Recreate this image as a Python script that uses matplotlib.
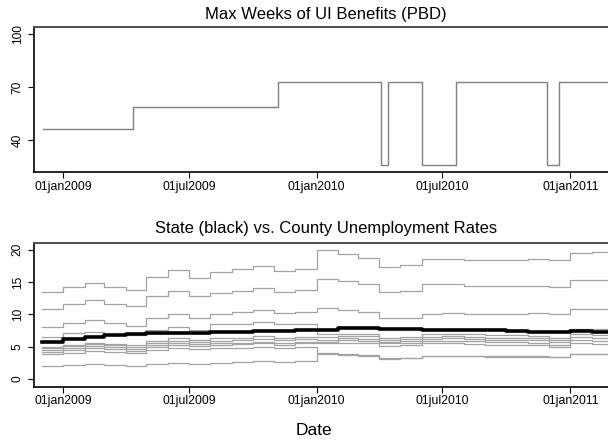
import numpy as np
import pandas as pd
import matplotlib
matplotlib.use("Agg")
import matplotlib.pyplot as plt

plt.rcParams["font.family"] = ["Liberation Sans", "DejaVu Sans"]

# ============================================================
# DATA
# ============================================================

# max weeks of UI benefits (PBD), value holds from each change date
pbd_dates = ["2008-12-03", "2009-04-11", "2009-11-07", "2010-04-04", "2010-04-14",
             "2010-06-01", "2010-07-21", "2010-11-29", "2010-12-16", "2011-03-31"]
pbd_weeks = [46, 59, 73, 26, 73, 26, 73, 26, 73, 73]

# monthly unemployment rates, Dec 2008 .. Feb 2011
months = pd.date_range("2008-12-01", "2011-02-01", freq="MS")

state_rate = [5.77, 6.2, 6.45, 6.8, 6.95, 7.05, 7.15, 7.2, 7.3, 7.35, 7.45, 7.5, 7.65,
              7.65, 7.9, 7.9, 7.7, 7.7, 7.65, 7.65, 7.55, 7.55, 7.5, 7.35, 7.3, 7.45, 7.3]

county_rates = {
    "c1": [13.5, 14.25, 14.9, 14.25, 13.85, 15.8, 16.9, 15.6, 16.5, 17.0, 17.5, 16.7, 17.1,
           19.9, 19.4, 18.7, 17.4, 17.7, 18.65, 18.65, 18.5, 18.5, 18.5, 18.6, 18.4, 19.5, 19.7],
    "c2": [10.9, 11.57, 12.2, 11.57, 11.27, 12.8, 13.7, 12.8, 13.3, 13.7, 14.15, 13.5, 13.84,
           15.5, 15.2, 14.66, 13.5, 13.7, 14.66, 14.66, 14.4, 14.4, 14.4, 14.4, 14.25, 15.3, 15.4],
    "c3": [8.07, 8.7, 9.1, 8.7, 8.2, 9.5, 10.1, 9.5, 10.0, 10.3, 10.65, 10.2, 10.4,
           11.0, 10.75, 10.4, 9.4, 9.5, 10.1, 10.25, 10.05, 10.05, 10.05, 10.25, 10.0, 10.77, 10.87],
    "c4": [6.54, 7.06, 7.3, 7.0, 6.8, 7.6, 8.0, 7.6, 8.45, 8.45, 8.76, 8.45, 8.5,
           6.9, 7.0, 6.9, 6.4, 6.5, 6.9, 7.0, 6.9, 6.8, 6.8, 6.7, 6.4, 7.8, 7.7],
    "m1": [4.9, 5.3, 5.6, 5.4, 5.2, 5.9, 6.3, 6.0, 6.3, 6.4, 6.6, 6.4, 6.55,
           6.5, 6.7, 6.6, 6.1, 6.2, 6.5, 6.6, 6.5, 6.4, 6.4, 6.3, 6.0, 6.9, 6.8],
    "m2": [4.74, 5.1, 5.35, 5.2, 5.0, 5.6, 5.95, 5.7, 5.9, 6.0, 6.2, 6.0, 6.13,
           6.1, 6.3, 6.2, 5.8, 5.9, 6.2, 6.3, 6.2, 6.1, 6.0, 6.0, 5.7, 6.5, 6.4],
    "m3": [4.48, 4.8, 5.05, 4.9, 4.7, 5.3, 5.6, 5.4, 5.55, 5.65, 5.8, 5.6, 5.77,
           5.8, 6.0, 5.9, 5.5, 5.6, 5.9, 5.95, 5.85, 5.75, 5.7, 5.6, 5.3, 6.0, 5.9],
    "m4": [4.22, 4.5, 4.75, 4.6, 4.4, 4.95, 5.3, 5.1, 5.25, 5.35, 5.5, 5.3, 5.5,
           5.5, 5.6, 5.5, 5.1, 5.2, 5.5, 5.5, 5.4, 5.3, 5.3, 5.2, 4.9, 5.5, 5.4],
    "m5": [3.86, 4.1, 4.35, 4.2, 4.0, 4.5, 4.8, 4.6, 4.75, 4.85, 5.0, 4.85, 4.99,
           3.97, 3.8, 3.7, 3.25, 3.3, 3.55, 3.6, 3.55, 3.5, 3.5, 3.5, 3.45, 3.8, 3.8],
    "c9": [2.0, 2.16, 2.3, 2.2, 2.05, 2.35, 2.5, 2.4, 2.55, 2.65, 2.8, 2.65, 2.78,
           3.86, 3.7, 3.6, 3.15, 3.2, 3.5, 3.55, 3.5, 3.45, 3.45, 3.45, 3.4, 3.9, 3.9],
}

xtick_dates = ["2009-01-01", "2009-07-01", "2010-01-01", "2010-07-01", "2011-01-01"]
xtick_labels = ["01jan2009", "01jul2009", "01jan2010", "01jul2010", "01jan2011"]

# ============================================================
# PLOT
# ============================================================

x_lo = pd.Timestamp("2008-11-20 14:00")
x_hi = pd.Timestamp("2011-02-24 08:00")

# extend monthly steps past the visible edge
month_edges = list(months) + [pd.Timestamp("2011-03-01")]


def ext(v):
    return list(v) + [v[-1]]


fig = plt.figure(figsize=(6.08, 4.45), dpi=100)
ax1 = fig.add_axes([0.0564, 0.6128, 0.9436, 0.3272])
ax2 = fig.add_axes([0.0564, 0.1310, 0.9436, 0.3236])


def style(ax):
    ax.spines["right"].set_visible(False)
    ax.spines["top"].set_color("#505050")
    ax.spines["top"].set_linewidth(1.4)
    ax.spines["left"].set_linewidth(1.2)
    ax.spines["bottom"].set_linewidth(1.2)
    ax.set_xlim(x_lo, x_hi)
    ax.set_xticks(pd.to_datetime(xtick_dates))
    ax.set_xticklabels(xtick_labels, fontsize=8.8)
    ax.tick_params(axis="x", length=4, width=0.8, pad=2)
    ax.tick_params(axis="y", length=4, width=0.8, pad=3.5, labelsize=8.6)
    for lab in ax.get_yticklabels():
        lab.set_rotation(90)
        lab.set_va("center")


ax1.plot(pd.to_datetime(pbd_dates), pbd_weeks, drawstyle="steps-post",
         color="#808080", lw=1.0)
ax1.set_ylim(21.7, 104.3)
ax1.set_yticks([40, 70, 100])
style(ax1)

for name, vals in county_rates.items():
    ax2.plot(month_edges, ext(vals), drawstyle="steps-post", color="#a3a3a3", lw=0.9)
ax2.plot(month_edges, ext(state_rate), drawstyle="steps-post", color="black", lw=2.6, zorder=5)
ax2.set_ylim(-1.19, 21.1)
ax2.set_yticks([0, 5, 10, 15, 20])
style(ax2)

fig.text(0.5357, 0.9685, "Max Weeks of UI Benefits (PBD)", ha="center", va="center", fontsize=12)
fig.text(0.5357, 0.4854, "State (black) vs. County Unemployment Rates", ha="center", va="center", fontsize=12)
fig.text(0.5167, 0.0315, "Date", ha="center", va="center", fontsize=12.5)

fig.savefig("out.png", dpi=100)
